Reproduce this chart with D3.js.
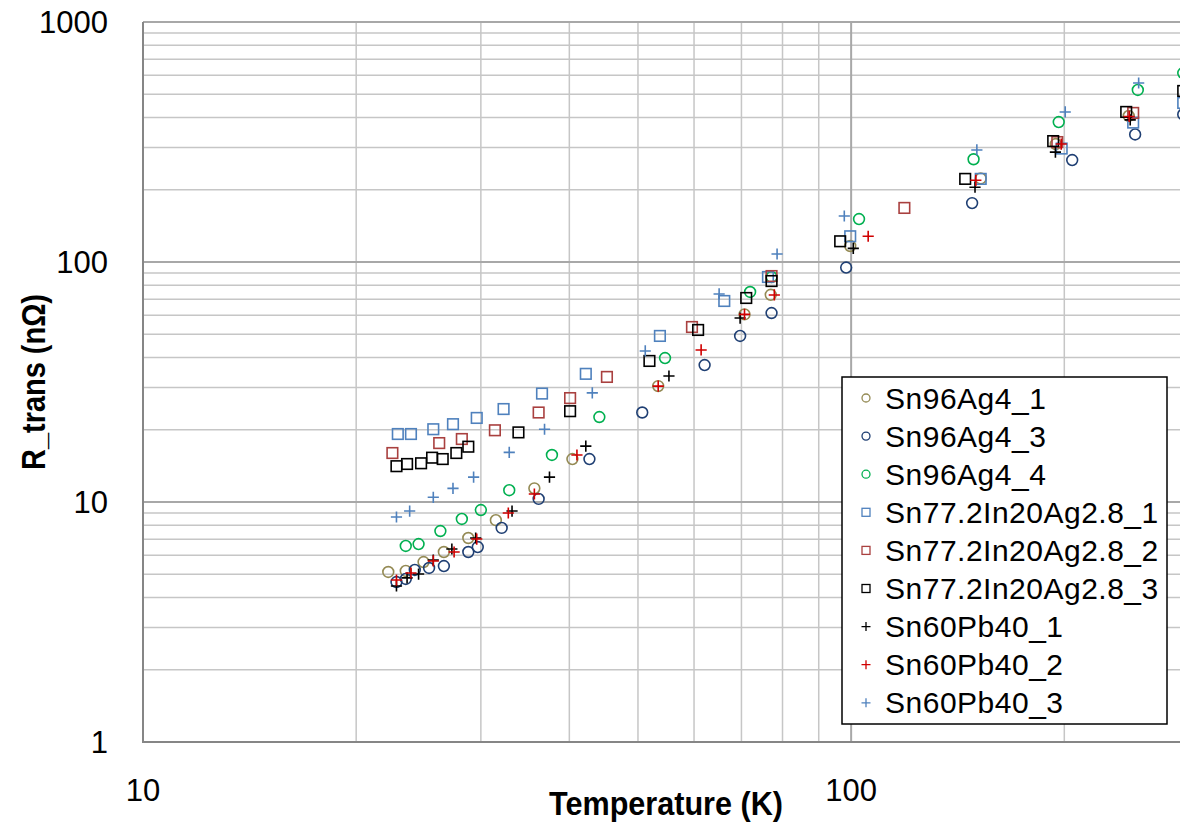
<!DOCTYPE html>
<html>
<head>
<meta charset="utf-8">
<script src="https://cdn.jsdelivr.net/npm/d3@7/dist/d3.min.js"></script>
<style>
  body { margin: 0; background: #fff; }
  svg { display: block; font-family: "Liberation Sans", Arial, sans-serif; }
</style>
</head>
<body>
<div id="chart"></div>
<script>
// [temperature K, R_trans nOhm] per sample
const sn96ag4_1 = [[22.2,5.11],[23.5,5.16],[24.9,5.62],[26.6,6.19],[28.8,7.08],[31.5,8.4],[35.7,11.4],[40.4,15.1],
  [53.4,30.4],[70.7,60.5],[77.0,73.0],[99.7,116.6],[152.4,223],[194.5,310],[246.6,406]];
const sn96ag4_3 = [[22.8,4.64],[23.5,4.78],[24.2,5.21],[25.35,5.31],[26.6,5.41],[28.8,6.19],[29.7,6.49],[32.1,7.8],
  [36.2,10.3],[42.7,15.1],[50.7,23.6],[62.1,37.2],[69.7,49.2],[77.2,61.3],[98.4,94.8],[148.2,176],[205.2,266],
  [251.8,340],[294.4,412]];
const sn96ag4_4 = [[23.5,6.56],[24.5,6.68],[26.3,7.57],[28.2,8.5],[30.0,9.26],[32.9,11.2],[37.8,15.7],[44.1,22.6],
  [54.6,39.8],[72.0,75.0],[77.2,86.6],[102.6,151],[148.9,268],[196.4,383],[254,521],[294.4,613]];
const sn77in20_1 = [[22.9,19.2],[23.9,19.2],[25.7,20.1],[27.4,21.1],[29.6,22.4],[32.3,24.4],[36.6,28.3],[42.2,34.2],
  [53.7,49.2],[66.2,68.8],[76.3,86.6],[99.7,128],[152.4,222],[198.3,297],[250.2,381],[294.4,460]];
const sn77in20_2 = [[22.5,16.0],[26.2,17.6],[28.2,18.3],[31.4,19.9],[36.2,23.6],[40.1,27.1],[45.2,33.2],[59.6,53.6],
  [77.2,87.4],[118.9,168],[195.5,316],[250.2,418]];
const sn77in20_3 = [[22.8,14.1],[23.6,14.4],[24.7,14.5],[25.6,15.3],[26.5,15.1],[27.7,16.0],[28.8,17.0],[33.9,19.5],
  [40.1,23.9],[51.9,38.7],[60.8,52.1],[71.1,70.8],[77.2,83.3],[96.5,122],[144.9,222],[192.9,319],[244.6,422],[294.4,516]];
const sn60pb40_1 = [[22.8,4.47],[23.6,4.83],[24.5,5.01],[25.7,5.73],[27.3,6.37],[29.5,7.08],[33.2,9.17],[37.5,12.7],
  [42.2,17.1],[55.3,33.5],[69.7,58.4],[100.7,114],[149.6,205],[194.3,287],[247.8,391]];
const sn60pb40_2 = [[22.8,4.73],[23.9,5.06],[25.7,5.68],[27.5,6.19],[29.6,7.01],[32.8,9.0],[35.7,10.8],[41.0,15.7],
  [53.4,30.4],[61.4,43.0],[70.7,60.5],[77.9,72.9],[105.7,128],[150,219],[198,310],[247,404]];
const sn60pb40_3 = [[22.8,8.66],[23.8,9.17],[25.7,10.46],[27.4,11.4],[29.3,12.7],[32.9,16.1],[36.9,20.1],[43.1,28.5],
  [51.2,42.6],[65.1,73.6],[78.6,108],[97.8,155.5],[150.5,293],[200.6,422],[254.7,557]];

const seriesNames = ["Sn96Ag4_1", "Sn96Ag4_3", "Sn96Ag4_4", "Sn77.2In20Ag2.8_1", "Sn77.2In20Ag2.8_2",
  "Sn77.2In20Ag2.8_3", "Sn60Pb40_1", "Sn60Pb40_2", "Sn60Pb40_3"];
const seriesData = [sn96ag4_1, sn96ag4_3, sn96ag4_4, sn77in20_1, sn77in20_2, sn77in20_3, sn60pb40_1, sn60pb40_2, sn60pb40_3];

const xTicks = [10, 100];
const yTicks = [1, 10, 100, 1000];

// marker styling
const shapes = ["circle", "circle", "circle", "square", "square", "square", "plus", "plus", "plus"];
const colors = ["#948a54", "#1f3f73", "#00b050", "#4f81bd", "#a9403f", "#000000", "#000000", "#d00000", "#4f81bd"];

const W = 1180, H = 822;
const plot = { left: 143, right: 1189, top: 22, bottom: 742 };

const svg = d3.select("#chart").append("svg")
  .attr("width", W)
  .attr("height", H);

const x = d3.scaleLog().domain([10, 300]).range([plot.left, plot.right]);
const y = d3.scaleLog().domain([1, 1000]).range([plot.bottom, plot.top]);

// gridlines
const xMinor = [20, 30, 40, 50, 60, 70, 80, 90, 200];
const yMinor = [];
[1, 10, 100].forEach(d => { for (let k = 2; k <= 9; k++) yMinor.push(d * k); });

const grid = svg.append("g");
grid.selectAll(".ym").data(yMinor).enter().append("line")
  .attr("x1", plot.left).attr("x2", W)
  .attr("y1", d => y(d)).attr("y2", d => y(d))
  .attr("stroke", "#c6c6c6").attr("stroke-width", 1.5);
grid.selectAll(".xm").data(xMinor).enter().append("line")
  .attr("x1", d => x(d)).attr("x2", d => x(d))
  .attr("y1", plot.top).attr("y2", plot.bottom)
  .attr("stroke", "#c6c6c6").attr("stroke-width", 1.5);
grid.selectAll(".yM").data(yTicks.slice(1)).enter().append("line")
  .attr("x1", plot.left).attr("x2", W)
  .attr("y1", d => y(d)).attr("y2", d => y(d))
  .attr("stroke", "#a8a8a8").attr("stroke-width", 2);
grid.selectAll(".xM").data([100]).enter().append("line")
  .attr("x1", d => x(d)).attr("x2", d => x(d))
  .attr("y1", plot.top).attr("y2", plot.bottom)
  .attr("stroke", "#a8a8a8").attr("stroke-width", 2);

// axis lines
svg.append("line").attr("x1", plot.left).attr("x2", plot.left)
  .attr("y1", plot.top).attr("y2", plot.bottom + 1)
  .attr("stroke", "#868686").attr("stroke-width", 2);
svg.append("line").attr("x1", plot.left).attr("x2", W)
  .attr("y1", plot.bottom).attr("y2", plot.bottom)
  .attr("stroke", "#868686").attr("stroke-width", 2);

// tick labels
svg.append("g").selectAll("text").data(yTicks).enter().append("text")
  .attr("x", 108).attr("y", d => y(d))
  .attr("text-anchor", "end").attr("dominant-baseline", "central")
  .attr("font-size", 31).attr("fill", "#000")
  .text(d => d);
svg.append("g").selectAll("text").data(xTicks).enter().append("text")
  .attr("x", d => x(d)).attr("y", 790)
  .attr("text-anchor", "middle").attr("dominant-baseline", "central")
  .attr("font-size", 31).attr("fill", "#000")
  .text(d => d);

// axis titles (narrow bold)
svg.append("text")
  .attr("x", 666).attr("y", 803)
  .attr("text-anchor", "middle").attr("dominant-baseline", "central")
  .attr("font-size", 33).attr("font-weight", "bold")
  .attr("textLength", 234).attr("lengthAdjust", "spacingAndGlyphs")
  .text("Temperature (K)");
svg.append("text")
  .attr("transform", "translate(33,382) rotate(-90)")
  .attr("text-anchor", "middle").attr("dominant-baseline", "central")
  .attr("font-size", 33).attr("font-weight", "bold")
  .attr("textLength", 176).attr("lengthAdjust", "spacingAndGlyphs")
  .text("R_trans (nΩ)");

function drawMarker(g, shape, color, size, sw) {
  if (shape === "circle") {
    g.append("circle").attr("r", size).attr("fill", "none")
      .attr("stroke", color).attr("stroke-width", sw);
  } else if (shape === "square") {
    g.append("rect").attr("x", -size).attr("y", -size)
      .attr("width", size * 2).attr("height", size * 2)
      .attr("fill", "none").attr("stroke", color).attr("stroke-width", sw);
  } else {
    g.append("path").attr("d", `M${-size},0H${size}M0,${-size}V${size}`)
      .attr("fill", "none").attr("stroke", color).attr("stroke-width", sw);
  }
}

// data points
const marks = svg.append("g");
seriesData.forEach((pts, i) => {
  const sg = marks.append("g");
  sg.selectAll("g").data(pts).enter().append("g")
    .attr("transform", d => `translate(${x(d[0])},${y(d[1])})`)
    .each(function() {
      const sz = shapes[i] === "circle" ? 5.4 : shapes[i] === "square" ? 5.3 : 5.6;
      drawMarker(d3.select(this), shapes[i], colors[i], sz, 1.6);
    });
});

// legend
const legend = svg.append("g");
legend.append("rect")
  .attr("x", 842).attr("y", 377).attr("width", 325).attr("height", 347)
  .attr("fill", "#fff").attr("stroke", "#000").attr("stroke-width", 1.5);
seriesNames.forEach((name, i) => {
  const ly = 398 + i * 38.1;
  const mg = legend.append("g").attr("transform", `translate(866,${ly})`);
  const sz = shapes[i] === "circle" ? 4 : shapes[i] === "square" ? 4 : 4.5;
  drawMarker(mg, shapes[i], colors[i], sz, 1.3);
  legend.append("text")
    .attr("x", 885).attr("y", ly)
    .attr("dominant-baseline", "central")
    .attr("font-size", 30).attr("letter-spacing", 0.5).attr("fill", "#000")
    .text(name);
});
</script>
</body>
</html>
